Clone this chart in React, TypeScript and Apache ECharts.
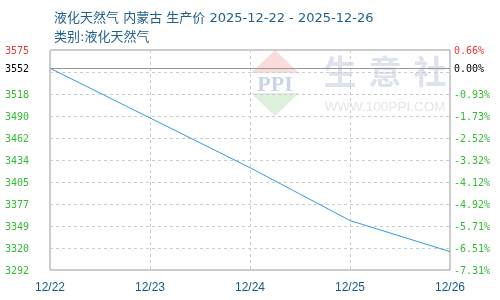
import React, { useEffect, useRef } from "react";
import * as echarts from "echarts";

const titleText = "液化天然气 内蒙古 生产价 2025-12-22 - 2025-12-26";
const subTitleText = "类别:液化天然气";
const categories = ["12/22", "12/23", "12/24", "12/25", "12/26"];
const prices = [3552, 3488, 3424, 3356, 3316];
const BASE = 3552;
const Y_MIN = 3292.35;
const Y_MAX = 3575.45;
const leftTickLabels = ["3292", "3320", "3349", "3377", "3405", "3434", "3462", "3490", "3518", "3552", "3575"];
const rightTickLabels = ["-7.31%", "-6.51%", "-5.71%", "-4.92%", "-4.12%", "-3.32%", "-2.52%", "-1.73%", "-0.93%", "0.00%", "0.66%"];

const STEP = (Y_MAX - Y_MIN) / 10;
const gridValues = Array.from({ length: 11 }, (_, k) => Y_MIN + k * STEP);
const labelValues = gridValues.map((v, k) => (k === 9 ? BASE : v));

function labelIndex(v: number) {
  let best = 0;
  let bd = Infinity;
  labelValues.forEach((x, i) => {
    const d = Math.abs(x - v);
    if (d < bd) { bd = d; best = i; }
  });
  return best;
}
function labelColor(v: number) {
  const i = labelIndex(v);
  if (i === 10) return "#ee3333";
  if (i === 9) return "#000000";
  return "#33bb33";
}

export default function App() {
  const ref = useRef<HTMLDivElement>(null);
  useEffect(() => {
    if (!ref.current) return;
    const chart = echarts.init(ref.current, null, { renderer: "svg" });
    const monoLabel = {
      fontFamily: "DejaVu Sans Mono",
      fontSize: 10,
    };
    chart.setOption({
      animation: false,
      title: [
        {
          text: titleText,
          left: 49,
          top: 6,
          textStyle: { fontSize: 13, fontWeight: "normal", color: "#1f5f8f", fontFamily: "DejaVu Sans, Noto Sans CJK SC" },
        },
        {
          text: subTitleText,
          left: 49,
          top: 25,
          textStyle: { fontSize: 13, fontWeight: "normal", color: "#1f5f8f", fontFamily: "DejaVu Sans, Noto Sans CJK SC" },
        },
      ],
      grid: { left: 50, right: 50, top: 50, bottom: 30, show: true, borderColor: "#999999", borderWidth: 1, backgroundColor: "transparent" },
      graphic: [
        { type: "polygon", z: -10, shape: { points: [[275, 50], [299, 73], [251, 73]] }, style: { fill: "#fbdcdc" } },
        { type: "polygon", z: -10, shape: { points: [[251, 93], [299, 93], [275, 116]] }, style: { fill: "#dcf0dc" } },
        { type: "text", z: -10, x: 275, y: 83, style: { text: "PPI", fill: "#c9d4ea", font: "bold 22px 'Liberation Serif'", align: "center", verticalAlign: "middle" } },
        { type: "text", z: -10, x: 340, y: 70, style: { text: "生", fill: "#dde2ee", font: "bold 33px 'Noto Sans CJK SC'", align: "center", verticalAlign: "middle" } },
        { type: "text", z: -10, x: 385, y: 70, style: { text: "意", fill: "#dde2ee", font: "bold 33px 'Noto Sans CJK SC'", align: "center", verticalAlign: "middle" } },
        { type: "text", z: -10, x: 430, y: 70, style: { text: "社", fill: "#dde2ee", font: "bold 33px 'Noto Sans CJK SC'", align: "center", verticalAlign: "middle" } },
        { type: "text", z: -10, x: 385, y: 106, style: { text: "WWW.100PPI.COM", fill: "#e6e6e6", font: "13.5px 'Liberation Sans'", align: "center", verticalAlign: "middle" } },
      ],
      xAxis: {
        type: "category",
        data: categories,
        boundaryGap: false,
        axisLine: { show: false },
        axisTick: { show: false },
        axisLabel: { color: "#1a5a8a", fontSize: 12, fontFamily: "Liberation Sans", margin: 11 },
        splitLine: { show: true, lineStyle: { color: "#cccccc", type: [3, 3], width: 1 } },
      },
      yAxis: [
        {
          type: "value",
          min: Y_MIN,
          max: Y_MAX,
          position: "left",
          axisLine: { show: false },
          axisTick: { show: false, customValues: gridValues },
          axisLabel: {
            customValues: labelValues,
            ...monoLabel,
            margin: 21,
            formatter: (v: number) => leftTickLabels[labelIndex(v)],
            color: (v: number) => labelColor(v),
          },
          splitLine: { show: true, lineStyle: { color: "#cccccc", type: [3, 3], width: 1 } },
        },
        {
          type: "value",
          min: Y_MIN,
          max: Y_MAX,
          position: "right",
          alignTicks: false,
          axisLine: { show: false },
          axisTick: { show: false, customValues: gridValues },
          axisLabel: {
            customValues: labelValues,
            ...monoLabel,
            margin: 4,
            formatter: (v: number) => rightTickLabels[labelIndex(v)],
            color: (v: number) => labelColor(v),
          },
          splitLine: { show: false },
        },
      ],
      series: [
        {
          type: "line",
          data: prices,
          yAxisIndex: 0,
          showSymbol: false,
          symbol: "none",
          lineStyle: { color: "#3399dd", width: 1 },
          itemStyle: { color: "#3399dd" },
          markLine: {
            silent: true,
            symbol: "none",
            label: { show: false },
            lineStyle: { color: "#999999", type: "solid", width: 1 },
            data: [{ yAxis: BASE }],
          },
        },
      ],
    });
    return () => chart.dispose();
  }, []);
  return <div ref={ref} style={{ position: "fixed", left: 0, top: 0, width: 500, height: 300 }} />;
}
